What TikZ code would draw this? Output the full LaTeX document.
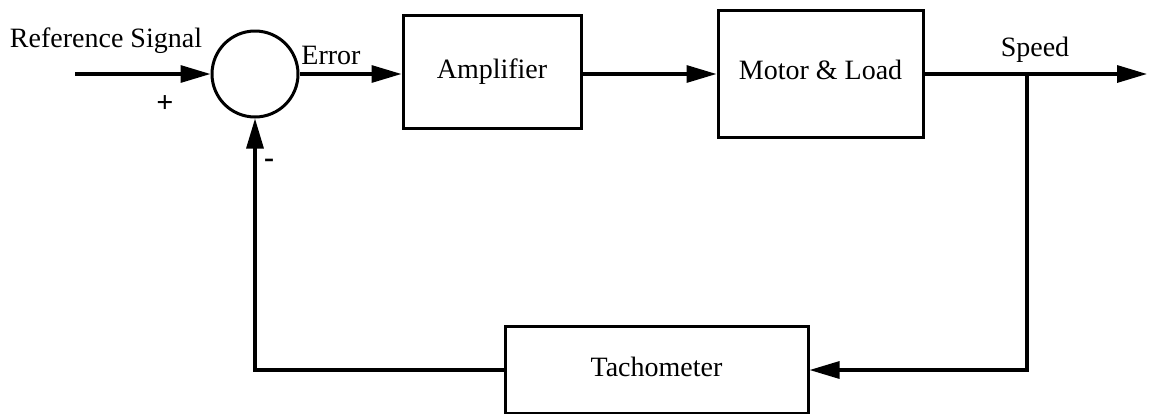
\documentclass[tikz,border=0pt]{standalone}
\usepackage{fontspec}
\setmainfont{Liberation Serif}
\usetikzlibrary{arrows.meta}

\tikzstyle{block} = [rectangle, draw, line width=1.5pt, text centered, text height=1.5ex, text depth=0.1ex, font=\fontsize{14}{16}\selectfont]
\tikzstyle{sumnode} = [circle, draw, line width=1.5pt, minimum size=43pt, inner sep=0pt]
\tikzstyle{conn} = [draw, line width=1.6pt, -{Triangle[length=15pt,width=8.5pt]}]
\tikzstyle{label} = [font=\fontsize{14}{16}\selectfont, inner sep=0pt]
\tikzstyle{sign} = [font=\fontsize{15}{16}\selectfont\bfseries, inner sep=0pt]

\begin{document}
\begin{tikzpicture}[x=0.5pt, y=-0.5pt]
        \useasboundingbox (0,0) rectangle (1154,413);
        % forward path
        \coordinate (in) at (75,74);
        \node (sum) at (255,74) [sumnode] {};
        \node (amp) at (492,72) [block, minimum width=89pt, minimum height=56.5pt] {Amplifier};
        \node (motor) at (820.5,73.5) [block, minimum width=102.5pt, minimum height=63.5pt] {Motor \& Load};
        \coordinate (branch) at (1027,74);
        \coordinate (out) at (1147,74);
        % feedback path
        \node (tacho) at (656.5,370) [block, minimum width=151.5pt, minimum height=43.5pt] {Tachometer};

        % labels
        \node (refsig) at (106,41) [label] {Reference Signal};
        \node (plus) at (165,104) [sign] {+};
        \node (minus) at (269,163) [sign] {-};
        \node (err) at (331,55) [label] {Error};
        \node (speed) at (1035,50) [label] {Speed};

        % connectors
        \path [conn] (in) -- (sum.west);
        \path [conn] (sum.east) -- (amp.west |- sum.east);
        \path [conn] (amp.east |- sum.east) -- (motor.west |- sum.east);
        \draw [line width=1.6pt] (motor.east |- sum.east) -- (branch);
        \path [conn] (branch) -- (out);
        \path [conn] (branch) |- (tacho.east);
        \path [conn] (tacho.west) -| (sum.south);
\end{tikzpicture}
\end{document}
